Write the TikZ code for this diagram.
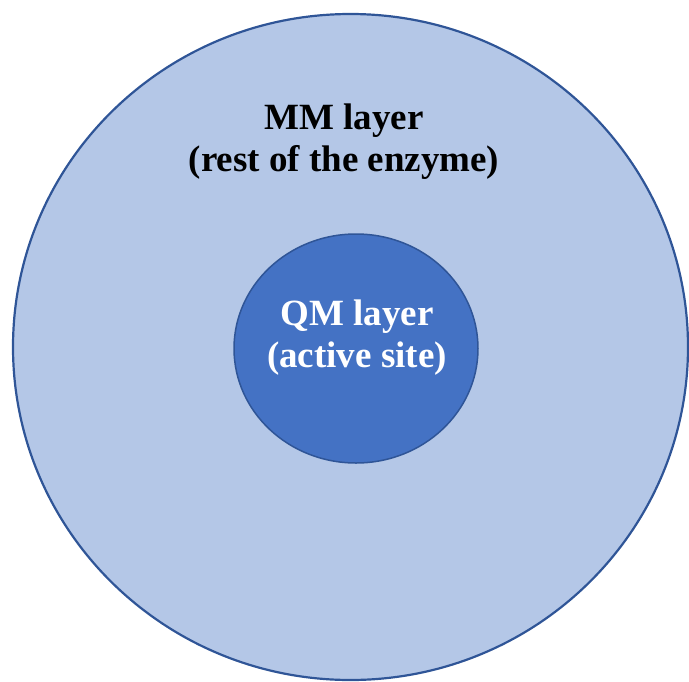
\documentclass[tikz,border=0pt]{standalone}
\usepackage{fontspec}
\setmainfont{Liberation Serif}
\usetikzlibrary{shapes.geometric}

\definecolor{mmfill}{HTML}{B4C7E7}
\definecolor{qmfill}{HTML}{4472C4}
\definecolor{rim}{HTML}{2F5597}

\tikzset{
  layer/.style={ellipse, draw=rim, inner sep=0pt},
  label/.style={align=center, font=\bfseries\fontsize{37}{42}\selectfont}
}

\begin{document}
\begin{tikzpicture}[x=1pt, y=-1pt]
        \useasboundingbox (0,0) rectangle (689,681);

        \node[layer, fill=mmfill, line width=2.2pt, minimum width=675pt, minimum height=666pt] (mm) at (350.5, 347) {};
        \node[layer, fill=qmfill, line width=1.5pt, minimum width=244pt, minimum height=229pt] (qm) at (356, 348.5) {};

        \node[label] (mmtext) at (344, 142) {MM layer\\(rest of the enzyme)};
        \node[label, text=white] (qmtext) at (357, 338) {QM layer\\(active site)};
\end{tikzpicture}
\end{document}
